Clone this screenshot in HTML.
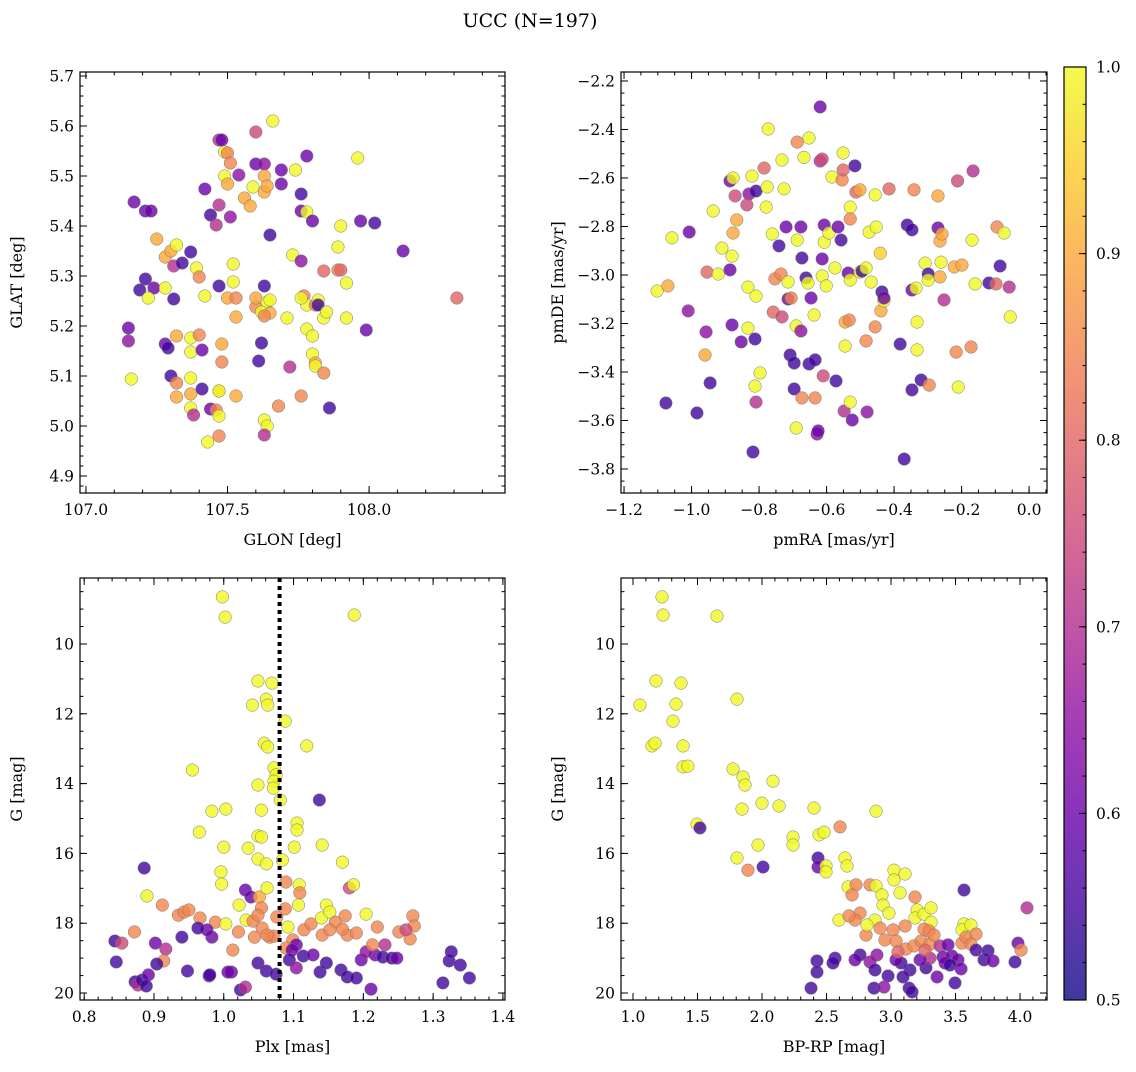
<!DOCTYPE html>
<html><head><meta charset="utf-8"><style>
body{margin:0;background:#fff}
svg text{font-family:"DejaVu Serif","Liberation Serif",serif;fill:#000}
</style></head><body>
<svg id="fig" width="1136" height="1067" viewBox="0 0 1136 1067" xmlns="http://www.w3.org/2000/svg">
<text x="530" y="27" font-size="19" text-anchor="middle">UCC (N=197)</text>
<g id="layer"></g>
</svg>
<script>
// ---- data: [x, y, colorValue] ----
const skyPoints=[[107.17,5.448,0.6],[107.21,5.43,0.6],[107.23,5.43,0.6],[107.15,5.196,0.6],[107.15,5.17,0.65],[107.16,5.094,1.0],[107.19,5.272,0.55],[107.21,5.294,0.55],[107.24,5.276,0.6],[107.22,5.256,1.0],[107.25,5.374,0.9],[107.28,5.276,1.0],[107.28,5.338,0.9],[107.3,5.35,0.9],[107.32,5.362,1.0],[107.31,5.32,0.7],[107.34,5.326,0.55],[107.31,5.254,0.55],[107.28,5.164,0.6],[107.29,5.156,0.55],[107.3,5.1,0.55],[107.32,5.18,0.9],[107.32,5.086,0.85],[107.32,5.058,0.9],[107.37,5.176,1.0],[107.37,5.148,1.0],[107.37,5.096,1.0],[107.37,5.064,0.9],[107.37,5.036,1.0],[107.38,5.022,0.7],[107.37,5.348,0.55],[107.39,5.316,1.0],[107.4,5.298,0.85],[107.42,5.26,1.0],[107.4,5.182,0.85],[107.41,5.152,0.6],[107.41,5.074,0.55],[107.44,5.034,0.6],[107.43,4.968,1.0],[107.42,5.474,0.6],[107.44,5.422,0.55],[107.46,5.402,0.7],[107.47,5.442,0.7],[107.47,5.572,0.7],[107.48,5.572,0.6],[107.49,5.548,1.0],[107.5,5.546,0.85],[107.49,5.5,1.0],[107.51,5.526,0.85],[107.5,5.484,0.9],[107.54,5.502,0.65],[107.51,5.418,0.65],[107.47,5.28,0.55],[107.5,5.256,0.9],[107.52,5.288,1.0],[107.52,5.324,1.0],[107.53,5.256,0.85],[107.53,5.218,0.9],[107.48,5.164,0.9],[107.48,5.128,0.85],[107.47,5.07,0.9],[107.47,5.07,1.0],[107.46,5.032,0.85],[107.47,5.02,1.0],[107.47,4.98,0.85],[107.53,5.06,0.9],[107.56,5.456,0.9],[107.58,5.44,0.9],[107.59,5.478,1.0],[107.6,5.588,0.75],[107.6,5.524,0.6],[107.63,5.524,0.65],[107.66,5.61,1.0],[107.63,5.5,0.9],[107.63,5.468,0.9],[107.64,5.48,0.9],[107.69,5.484,0.6],[107.69,5.512,0.6],[107.74,5.512,1.0],[107.78,5.54,0.6],[107.76,5.464,0.55],[107.76,5.43,0.6],[107.65,5.382,0.55],[107.6,5.238,0.85],[107.6,5.256,0.9],[107.63,5.28,0.55],[107.64,5.248,1.0],[107.65,5.252,1.0],[107.62,5.228,1.0],[107.65,5.226,0.9],[107.62,5.166,0.55],[107.61,5.13,0.55],[107.63,5.22,0.85],[107.63,5.012,1.0],[107.64,5.0,1.0],[107.63,4.982,0.7],[107.68,5.04,0.85],[107.71,5.216,1.0],[107.72,5.118,0.7],[107.73,5.342,1.0],[107.76,5.33,0.65],[107.77,5.26,0.85],[107.78,5.242,1.0],[107.78,5.428,1.0],[107.76,5.06,0.85],[107.76,5.256,1.0],[107.78,5.194,1.0],[107.81,5.242,0.85],[107.8,5.18,1.0],[107.8,5.144,1.0],[107.81,5.126,0.9],[107.81,5.12,1.0],[107.84,5.106,0.85],[107.8,5.41,0.6],[107.82,5.252,1.0],[107.84,5.216,1.0],[107.82,5.242,0.55],[107.85,5.228,1.0],[107.84,5.31,0.8],[107.86,5.036,0.55],[107.89,5.312,0.85],[107.89,5.358,1.0],[107.9,5.4,1.0],[107.92,5.286,1.0],[107.92,5.216,1.0],[107.9,5.312,0.8],[107.96,5.536,1.0],[107.97,5.41,0.6],[107.99,5.192,0.6],[108.02,5.406,0.55],[108.12,5.35,0.6],[108.31,5.256,0.8]];
const pmPoints=[[-1.076,-3.528,0.55],[-0.984,-3.569,0.55],[-0.945,-3.445,0.55],[-1.007,-2.823,0.6],[-1.01,-3.148,0.65],[-1.058,-2.847,1.0],[-1.102,-3.066,1.0],[-1.07,-3.045,0.9],[-0.96,-3.33,0.9],[-0.957,-3.235,0.65],[-0.954,-2.988,0.8],[-0.921,-2.996,1.0],[-0.936,-2.736,1.0],[-0.91,-2.889,1.0],[-0.88,-2.922,1.0],[-0.886,-2.979,0.6],[-0.877,-2.827,0.9],[-0.866,-2.773,0.9],[-0.886,-2.612,0.6],[-0.877,-2.6,1.0],[-0.871,-2.674,0.75],[-0.88,-3.206,0.6],[-0.853,-3.276,0.6],[-0.833,-3.219,1.0],[-0.83,-2.666,0.65],[-0.821,-2.592,1.0],[-0.809,-2.654,0.55],[-0.836,-2.711,0.75],[-0.833,-3.05,1.0],[-0.809,-3.087,1.0],[-0.812,-3.264,0.55],[-0.797,-3.404,1.0],[-0.812,-3.458,1.0],[-0.809,-3.524,0.7],[-0.785,-2.559,0.8],[-0.776,-2.637,1.0],[-0.779,-2.72,1.0],[-0.773,-2.398,1.0],[-0.761,-2.831,1.0],[-0.758,-3.153,0.8],[-0.753,-3.016,0.85],[-0.735,-2.996,0.85],[-0.732,-3.173,0.75],[-0.741,-2.88,0.55],[-0.726,-2.645,1.0],[-0.732,-2.526,1.0],[-0.818,-3.73,0.55],[-0.72,-2.802,0.6],[-0.714,-3.029,1.0],[-0.714,-3.099,0.6],[-0.708,-3.33,0.55],[-0.696,-3.363,0.55],[-0.696,-3.47,0.55],[-0.69,-3.631,1.0],[-0.687,-2.856,1.0],[-0.69,-3.21,1.0],[-0.705,-3.095,0.85],[-0.687,-2.452,0.85],[-0.676,-2.802,0.6],[-0.676,-3.231,0.65],[-0.673,-2.93,0.55],[-0.673,-3.507,0.85],[-0.667,-2.515,1.0],[-0.652,-2.435,1.0],[-0.661,-3.012,0.55],[-0.655,-3.033,1.0],[-0.652,-3.367,0.55],[-0.646,-3.095,0.6],[-0.637,-3.165,1.0],[-0.634,-3.35,0.55],[-0.634,-3.507,0.85],[-0.628,-3.656,0.65],[-0.625,-3.643,0.6],[-0.619,-2.307,0.6],[-0.619,-2.53,0.7],[-0.613,-2.522,0.75],[-0.61,-3.416,0.75],[-0.613,-3.004,1.0],[-0.613,-2.934,0.6],[-0.607,-2.865,1.0],[-0.607,-2.794,0.6],[-0.601,-3.045,1.0],[-0.593,-2.827,1.0],[-0.584,-2.596,1.0],[-0.575,-2.971,1.0],[-0.572,-3.437,0.55],[-0.566,-2.802,0.6],[-0.557,-2.856,0.55],[-0.554,-2.608,0.85],[-0.551,-2.497,1.0],[-0.551,-2.567,0.8],[-0.548,-3.561,0.7],[-0.545,-3.194,0.9],[-0.545,-3.293,1.0],[-0.536,-2.992,0.6],[-0.53,-2.72,1.0],[-0.53,-2.769,0.85],[-0.53,-3.021,1.0],[-0.533,-3.186,0.85],[-0.524,-3.598,0.6],[-0.53,-3.524,1.0],[-0.516,-2.55,0.55],[-0.513,-2.658,0.8],[-0.501,-2.649,0.9],[-0.501,-2.988,1.0],[-0.495,-2.984,0.55],[-0.483,-2.971,1.0],[-0.483,-3.272,0.85],[-0.48,-3.565,0.65],[-0.474,-2.823,1.0],[-0.468,-3.029,1.0],[-0.456,-2.67,1.0],[-0.453,-2.802,1.0],[-0.456,-3.214,0.85],[-0.441,-2.91,0.95],[-0.439,-3.148,0.9],[-0.436,-3.07,0.55],[-0.43,-3.107,1.0],[-0.43,-3.095,0.6],[-0.415,-2.645,0.8],[-0.382,-3.285,0.55],[-0.37,-3.759,0.55],[-0.361,-2.794,0.55],[-0.347,-2.814,0.55],[-0.341,-2.649,0.85],[-0.347,-3.062,0.6],[-0.347,-3.474,0.55],[-0.335,-3.054,1.0],[-0.332,-3.194,1.0],[-0.332,-3.309,1.0],[-0.32,-3.433,0.55],[-0.308,-2.951,1.0],[-0.299,-2.996,0.55],[-0.299,-3.021,1.0],[-0.296,-3.454,0.85],[-0.27,-2.674,0.9],[-0.27,-2.806,0.6],[-0.264,-2.86,0.9],[-0.258,-2.831,0.9],[-0.261,-2.947,1.0],[-0.264,-3.008,0.9],[-0.252,-3.103,0.7],[-0.222,-2.967,0.9],[-0.212,-2.612,0.75],[-0.216,-3.318,0.85],[-0.21,-3.462,1.0],[-0.199,-2.959,0.9],[-0.172,-3.297,0.85],[-0.169,-2.856,1.0],[-0.166,-2.571,0.7],[-0.16,-3.037,1.0],[-0.119,-3.033,0.55],[-0.098,-3.037,0.8],[-0.095,-2.802,0.85],[-0.086,-2.963,0.55],[-0.074,-2.827,1.0],[-0.059,-3.05,0.7],[-0.056,-3.173,1.0]];
const plxPoints=[[0.998,8.65,1],[1.002,9.23,1],[1.187,9.17,1],[1.049,11.06,1],[1.069,11.12,1],[1.061,11.58,1],[1.063,11.75,1],[1.041,11.75,1],[1.088,12.21,1],[1.119,12.92,1],[1.058,12.84,1],[1.063,12.95,1],[1.137,14.47,0.55],[1.072,13.55,1],[0.955,13.61,1],[1.075,13.75,1],[1.072,13.93,1],[1.071,14.13,1],[1.049,14.04,1],[1.081,14.47,1],[1.003,14.73,1],[0.983,14.79,1],[1.054,14.76,1],[1.105,15.13,1],[1.105,15.33,1],[1.049,15.5,1],[1.054,15.53,1],[0.965,15.39,1],[1.0,15.82,1],[1.035,15.85,1],[1.141,15.76,1],[1.101,15.82,1],[1.049,16.16,1],[1.084,16.19,1],[0.996,16.53,1],[1.061,16.3,1],[1.17,16.25,1],[0.886,16.42,0.55],[0.997,16.88,1],[1.031,17.05,0.6],[1.18,16.99,0.75],[1.186,16.9,1],[0.89,17.22,1],[1.039,17.25,0.6],[1.051,17.25,0.9],[1.062,16.99,1],[1.089,16.82,0.85],[1.108,16.9,1],[1.109,17.13,0.85],[0.935,17.77,0.85],[0.943,17.68,0.85],[0.95,17.62,0.85],[0.912,17.48,0.85],[0.966,17.85,0.85],[0.988,17.97,0.85],[1.003,18.02,1],[1.022,17.48,1],[1.032,17.91,1],[1.042,17.94,0.85],[1.054,17.56,0.85],[1.055,18.14,0.85],[1.049,17.77,0.85],[1.088,17.59,0.85],[1.076,17.82,0.85],[1.092,18.11,1],[1.107,17.48,1],[1.115,18.19,0.85],[1.125,18.02,0.85],[1.14,17.85,1],[1.147,17.48,1],[1.152,17.68,1],[1.16,17.97,0.85],[1.174,17.79,0.85],[1.177,18.34,0.85],[1.204,17.74,1],[1.021,18.25,0.85],[1.044,18.4,0.85],[1.066,18.4,0.85],[1.072,18.37,0.85],[1.099,18.48,0.85],[1.013,18.77,0.85],[1.089,18.71,0.85],[1.104,18.62,0.6],[0.983,18.4,0.6],[0.976,18.19,0.6],[0.963,18.14,0.55],[0.94,18.4,0.55],[0.902,18.57,0.6],[0.917,18.74,0.7],[0.914,19.08,0.85],[0.904,19.17,0.55],[0.844,18.51,0.55],[0.854,18.57,0.75],[0.846,19.11,0.55],[0.872,18.25,0.85],[0.873,19.68,0.55],[0.877,19.77,0.7],[0.883,19.63,0.55],[0.892,19.48,0.6],[0.889,19.8,0.55],[0.948,19.37,0.55],[0.979,19.51,0.6],[0.98,19.48,0.55],[1.011,19.4,0.6],[1.006,19.4,0.6],[1.024,19.91,0.55],[1.031,19.83,0.7],[1.049,19.14,0.55],[1.061,19.37,0.55],[1.075,19.46,0.55],[1.098,18.77,0.6],[1.094,19.05,0.55],[1.104,19.28,0.65],[1.114,18.94,0.55],[1.128,18.91,0.6],[1.138,19.4,0.55],[1.147,19.14,0.55],[1.168,19.34,0.55],[1.177,19.54,0.55],[1.19,19.57,0.55],[1.197,19.05,0.6],[1.217,18.91,0.6],[1.211,19.89,0.6],[1.204,18.82,0.65],[1.228,18.97,0.55],[1.231,18.62,0.7],[1.241,19.0,0.55],[1.248,19.0,0.6],[1.251,18.25,0.85],[1.267,18.45,0.85],[1.271,17.79,0.85],[1.273,18.08,0.85],[1.261,18.19,0.75],[1.314,19.71,0.55],[1.323,19.08,0.55],[1.326,18.82,0.55],[1.339,19.2,0.55],[1.352,19.57,0.55],[1.141,18.34,0.85],[1.152,18.19,0.85],[1.17,18.17,0.85],[1.19,18.28,0.85],[1.213,18.62,0.85],[1.22,18.11,0.85],[1.062,18.34,0.85]];
const cmdPoints=[[1.054,11.75,1],[1.178,11.06,1],[1.225,8.65,1],[1.233,9.17,1],[1.31,12.21,1],[1.333,11.72,1],[1.372,11.12,1],[1.147,12.92,1],[1.171,12.84,1],[1.388,12.92,1],[1.388,13.52,1],[1.426,13.5,1],[1.651,9.2,1],[1.496,15.16,1],[1.519,15.27,0.55],[1.806,11.58,1],[1.775,13.58,1],[1.853,13.81,1],[1.868,14.04,1],[2.0,14.56,1],[2.085,13.93,1],[2.132,14.64,1],[1.845,14.73,1],[1.806,16.13,1],[1.891,16.48,0.85],[1.969,15.76,1],[2.008,16.39,0.55],[2.24,15.53,1],[2.24,15.76,1],[2.403,14.7,1],[2.434,16.13,0.55],[2.434,16.39,0.6],[2.442,15.47,1],[2.481,15.39,1],[2.496,16.36,1],[2.605,15.24,0.85],[2.496,16.53,1],[2.643,16.13,1],[2.659,16.36,1],[2.667,16.96,1],[2.597,17.91,1],[2.729,16.9,0.85],[2.698,17.19,0.85],[2.76,17.71,0.85],[2.884,14.79,1],[2.837,16.9,0.85],[2.884,16.93,1],[2.93,17.19,1],[2.938,17.48,1],[2.984,17.71,1],[3.023,16.48,1],[3.023,16.76,1],[3.109,16.59,1],[3.07,17.13,1],[3.186,17.25,0.85],[3.202,17.62,1],[3.186,17.85,1],[3.256,17.74,1],[3.31,17.56,1],[3.31,17.97,1],[3.256,18.17,0.85],[3.295,18.22,0.85],[3.109,18.08,0.85],[3.016,18.19,0.85],[2.876,17.91,1],[2.915,18.14,0.85],[2.806,18.34,0.85],[2.721,17.91,0.85],[2.674,17.79,0.85],[2.814,18.05,1],[2.953,18.48,0.85],[3.039,18.51,0.85],[3.116,18.74,0.85],[3.178,18.65,0.85],[3.233,18.51,0.85],[3.302,18.6,0.85],[3.333,18.34,0.85],[3.38,18.65,0.7],[3.403,18.97,0.6],[3.442,18.62,0.6],[3.473,18.94,0.6],[3.519,19.05,0.6],[3.55,18.57,0.85],[3.566,18.02,1],[3.55,18.19,1],[3.581,18.4,0.85],[3.62,18.05,1],[3.659,18.31,0.85],[3.62,18.6,0.85],[3.566,17.05,0.55],[3.659,18.77,0.55],[3.721,19.05,0.55],[3.752,18.79,0.55],[3.791,19.08,0.6],[3.961,19.11,0.55],[3.984,18.57,0.6],[4.008,18.77,0.85],[4.054,17.56,0.7],[3.496,19.71,0.55],[3.357,19.54,0.6],[3.271,19.28,0.55],[3.147,19.34,0.55],[3.078,19.14,0.55],[3.093,19.54,0.55],[3.14,19.86,0.55],[3.163,19.97,0.55],[2.977,19.51,0.55],[2.891,18.91,0.65],[2.837,19.11,0.65],[2.876,19.34,0.55],[2.76,18.91,0.55],[2.721,19.05,0.6],[2.566,19.0,0.55],[2.55,19.14,0.55],[2.426,19.08,0.55],[2.426,19.4,0.55],[2.38,19.86,0.55],[2.868,19.86,0.55],[2.946,19.83,0.65],[3.302,19.0,0.7],[3.225,19.05,0.6],[3.419,19.14,0.6],[3.039,19.05,0.6],[3.264,18.77,0.8],[3.054,18.82,0.8],[3.457,19.2,0.55],[3.543,19.31,0.6]];
const skyXTicks=["107.0","107.5","108.0"];
const skyYTicks=["4.9","5.0","5.1","5.2","5.3","5.4","5.5","5.6","5.7"];
const pmXTicks=["-1.2","-1.0","-0.8","-0.6","-0.4","-0.2","0.0"];
const pmYTicks=["-3.8","-3.6","-3.4","-3.2","-3.0","-2.8","-2.6","-2.4","-2.2"];
const plxXTicks=["0.8","0.9","1.0","1.1","1.2","1.3","1.4"];
const gTicks=["10","12","14","16","18","20"];
const bprpTicks=["1.0","1.5","2.0","2.5","3.0","3.5","4.0"];
const cbarTicks=["0.5","0.6","0.7","0.8","0.9","1.0"];
const plxLine=[1.08];

const NS="http://www.w3.org/2000/svg";
const layer=document.getElementById('layer');
function mk(tag,attrs,parent){const e=document.createElementNS(NS,tag);for(const k in attrs)e.setAttribute(k,attrs[k]);(parent||layer).appendChild(e);return e;}
const stops=["#0d0887","#41049d","#6a00a8","#8f0da4","#b12a90","#cc4778","#e16462","#f2844b","#fca636","#fcce25","#f0f921"];
function hex(h){return[parseInt(h.substr(1,2),16),parseInt(h.substr(3,2),16),parseInt(h.substr(5,2),16)];}
function plasma(c){let t=Math.max(0,Math.min(1,(c-0.5)/0.5))*10;const i=Math.min(9,Math.floor(t)),f=t-i;const a=hex(stops[i]),b=hex(stops[i+1]);return`rgb(${a.map((v,k)=>Math.round(v+(b[k]-v)*f)).join(',')})`;}
const fmt=s=>s.replace('-','\u2212');

function panel(name,box,xd,yd,xt,yt,xminor,yminor,xlabel,ylabel,pts){
  const [L,T,R,B]=box;
  const sx=v=>L+(v-xd[0])/(xd[1]-xd[0])*(R-L);
  const sy=v=>T+(v-yd[0])/(yd[1]-yd[0])*(B-T);
  const g=mk('g',{});
  
  
  const cl=mk('clipPath',{id:'c'+name},g);mk('rect',{x:L,y:T,width:R-L,height:B-T},cl);
  const pg=mk('g',{'clip-path':'url(#c'+name+')'},g);
  
  
  pts.forEach(p=>{const c=mk('circle',{cx:sx(p[0]),cy:sy(p[1]),r:6.3,fill:plasma(p[2]),'fill-opacity':0.8,stroke:'#777','stroke-width':0.5},pg);
    
    });
  const ax=mk('g',{},g);
  
  
  // minor ticks
  const lo=Math.min(...xd),hi=Math.max(...xd);
  for(let v=Math.ceil(lo/xminor-1e-6)*xminor;v<=hi+1e-9;v+=xminor){const x=sx(v);mk('line',{x1:x,x2:x,y1:B,y2:B-3.5,stroke:'#000'},ax);mk('line',{x1:x,x2:x,y1:T,y2:T+3.5,stroke:'#000'},ax);}
  const ylo=Math.min(...yd),yhi=Math.max(...yd);
  for(let v=Math.ceil(ylo/yminor-1e-6)*yminor;v<=yhi+1e-9;v+=yminor){const y=sy(v);mk('line',{x1:L,x2:L+3.5,y1:y,y2:y,stroke:'#000'},ax);mk('line',{x1:R,x2:R-3.5,y1:y,y2:y,stroke:'#000'},ax);}
  xt.forEach(s=>{const x=sx(parseFloat(s));mk('line',{x1:x,x2:x,y1:B,y2:B-7,stroke:'#000'},ax);mk('line',{x1:x,x2:x,y1:T,y2:T+7,stroke:'#000'},ax);
    const t=mk('text',{x:x,y:B+22,'font-size':15.5,'text-anchor':'middle'},ax);t.textContent=fmt(s);
    
    });
  yt.forEach(s=>{const y=sy(parseFloat(s));mk('line',{x1:L,x2:L+7,y1:y,y2:y,stroke:'#000'},ax);mk('line',{x1:R,x2:R-7,y1:y,y2:y,stroke:'#000'},ax);
    const t=mk('text',{x:L-6,y:y+5.5,'font-size':15.5,'text-anchor':'end'},ax);t.textContent=fmt(s);
    
    });
  mk('rect',{x:L,y:T,width:R-L,height:B-T,fill:'none',stroke:'#000','stroke-width':1.2},ax);
  const xl=mk('text',{x:(L+R)/2,y:B+52,'font-size':16,'text-anchor':'middle'},ax);xl.textContent=xlabel;
  
  
  const yx=L-58;
  const yl=mk('text',{x:yx,y:(T+B)/2,'font-size':16,'text-anchor':'middle',transform:`rotate(-90 ${yx} ${(T+B)/2})`},ax);yl.textContent=ylabel;
  
  
  return {sx,sy,g,T,B};
}
panel('sky',[80,72,505,493],[106.979,108.48],[5.708,4.866],skyXTicks,skyYTicks,0.1,0.02,'GLON [deg]','GLAT [deg]',skyPoints);
panel('pm',[621,72,1047,493],[-1.209,0.053],[-2.163,-3.899],pmXTicks,pmYTicks,0.05,0.05,'pmRA [mas/yr]','pmDE [mas/yr]',pmPoints);
const p3=panel('plx',[80,578,505,1000],[0.794,1.403],[8.109,20.2],plxXTicks,gTicks,0.02,0.5,'Plx [mas]','G [mag]',plxPoints);
panel('cmd',[621,578,1047,1000],[0.907,4.209],[8.109,20.2],bprpTicks,gTicks,0.1,0.5,'BP-RP [mag]','G [mag]',cmdPoints);
plxLine.forEach(v=>{const x=p3.sx(v);const l=mk('line',{x1:x,x2:x,y1:578,y2:1000,stroke:'#000','stroke-width':4,'stroke-dasharray':'4,4'},p3.g);
  
  });
// colorbar
const cb=mk('g',{});


const defs=mk('defs',{},cb);const lg=mk('linearGradient',{id:'cg',x1:0,y1:1,x2:0,y2:0},defs);
stops.forEach((s,i)=>mk('stop',{offset:i/10,'stop-color':s,'stop-opacity':0.8},lg));
const cT=67,cB=1000,cL=1064,cR=1086;
mk('rect',{x:cL,y:cT,width:cR-cL,height:cB-cT,fill:'url(#cg)',stroke:'#000','stroke-width':1.2},cb);
const cy=v=>cB-(v-0.5)/0.5*(cB-cT);
for(let v=0.5;v<=1.0001;v+=0.02){mk('line',{x1:cR,x2:cR-3.5,y1:cy(v),y2:cy(v),stroke:'#000'},cb);}
cbarTicks.forEach(s=>{const y=cy(parseFloat(s));mk('line',{x1:cR,x2:cR-7,y1:y,y2:y,stroke:'#000'},cb);
  const t=mk('text',{x:cR+10,y:y+5.5,'font-size':15.5},cb);t.textContent=s;
  
  });
</script>
</body></html>
